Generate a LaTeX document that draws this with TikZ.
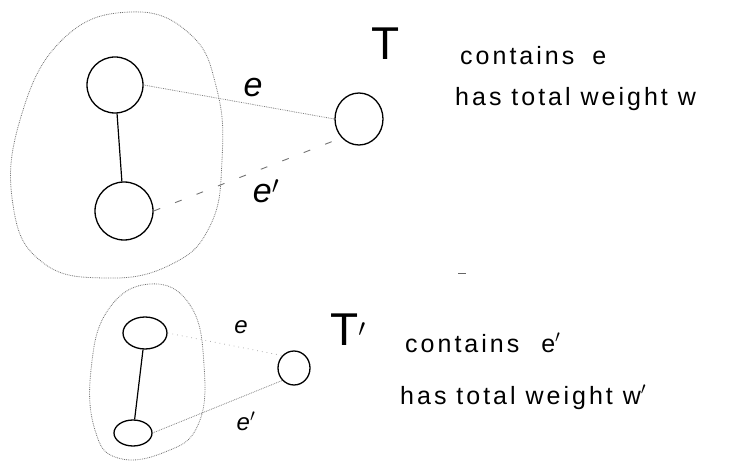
\documentclass[tikz,border=0pt]{standalone}
\usepackage{fontspec}
\setmainfont{Liberation Sans}[LetterSpace=12]
\usetikzlibrary{shapes.geometric}
\begin{document}
\begin{tikzpicture}[x=1pt,y=-1pt,
  vtx/.style={draw,line width=1.3pt,ellipse,inner sep=0pt},
  blob/.style={draw=black!55,line width=0.8pt,densely dotted},
  tree/.style={draw,line width=1.2pt},
  edgeE/.style={draw=black!50,line width=0.8pt,densely dotted},
  edgeEp/.style={draw=black!55,line width=0.9pt,dash pattern=on 7pt off 16pt},
  faint/.style={draw=black!30,line width=0.8pt,loosely dotted},
  txt/.style={anchor=base west,inner sep=0pt,font=\fontsize{25}{30}\selectfont},
  lab/.style={inner sep=0pt,font=\fontsize{34}{40}\selectfont\itshape},
  slab/.style={inner sep=0pt,font=\fontsize{24}{28}\selectfont\itshape},
  bigT/.style={inner sep=0pt,font=\fontsize{46}{50}\selectfont}]
\useasboundingbox (0,0) rectangle (755,465);

% ---------- top part ----------
\draw[blob] plot[smooth cycle,tension=0.75] coordinates {
  (130,12) (190,34) (217,90) (222,160) (210,226) (170,265)
  (105,278) (42,262) (13,205) (20,120) (62,40)};

\node[vtx,minimum width=56pt,minimum height=56pt] (u1) at (115,85) {};
\node[vtx,minimum width=58pt,minimum height=58pt] (u2) at (124,211) {};
\node[vtx,minimum width=48pt,minimum height=52pt] (t1) at (359,119) {};

\draw[tree] (u1) -- (u2);
\draw[edgeE] (u1.east) -- (t1.west);
\draw[edgeEp] (u2.east) -- (t1.south west);

\node[lab] (le) at (253,88) {e};
\node[lab] (lep) at (266,191) {e$'$};

\node[bigT,anchor=north] (T) at (386,28) {T};
\node[txt] (c1) at (460,65) {contains\hspace{18pt}e};
\node[txt] (h1) at (455,106) {has total weight w};

% stray mark
\draw[black!60,line width=0.9pt] (458,273) -- (466,273);

% ---------- bottom part ----------
\draw[blob] plot[smooth cycle,tension=0.75] coordinates {
  (150,284) (190,305) (204,365) (198,425) (165,452)
  (118,458) (95,430) (91,370) (108,310)};

\node[vtx,minimum width=44pt,minimum height=32pt] (b1) at (145,333) {};
\node[vtx,minimum width=38pt,minimum height=26pt] (b2) at (133,433) {};
\node[vtx,minimum width=32pt,minimum height=34pt] (t2) at (294,368) {};

\draw[tree] (b1) -- (b2);
\draw[faint] (b1.east) -- (t2.north west);
\draw[edgeE] (b2.east) -- (t2.south west);

\node[slab] (be) at (241,327) {e};
\node[slab] (bep) at (246,421) {e$'$};

\node[bigT,anchor=north] (T2) at (348,314) {T$'$};
\node[txt] (c2) at (405,352) {contains\hspace{22pt}e$'$};
\node[txt] (h2) at (400,404) {has total weight w$'$};
\end{tikzpicture}
\end{document}
